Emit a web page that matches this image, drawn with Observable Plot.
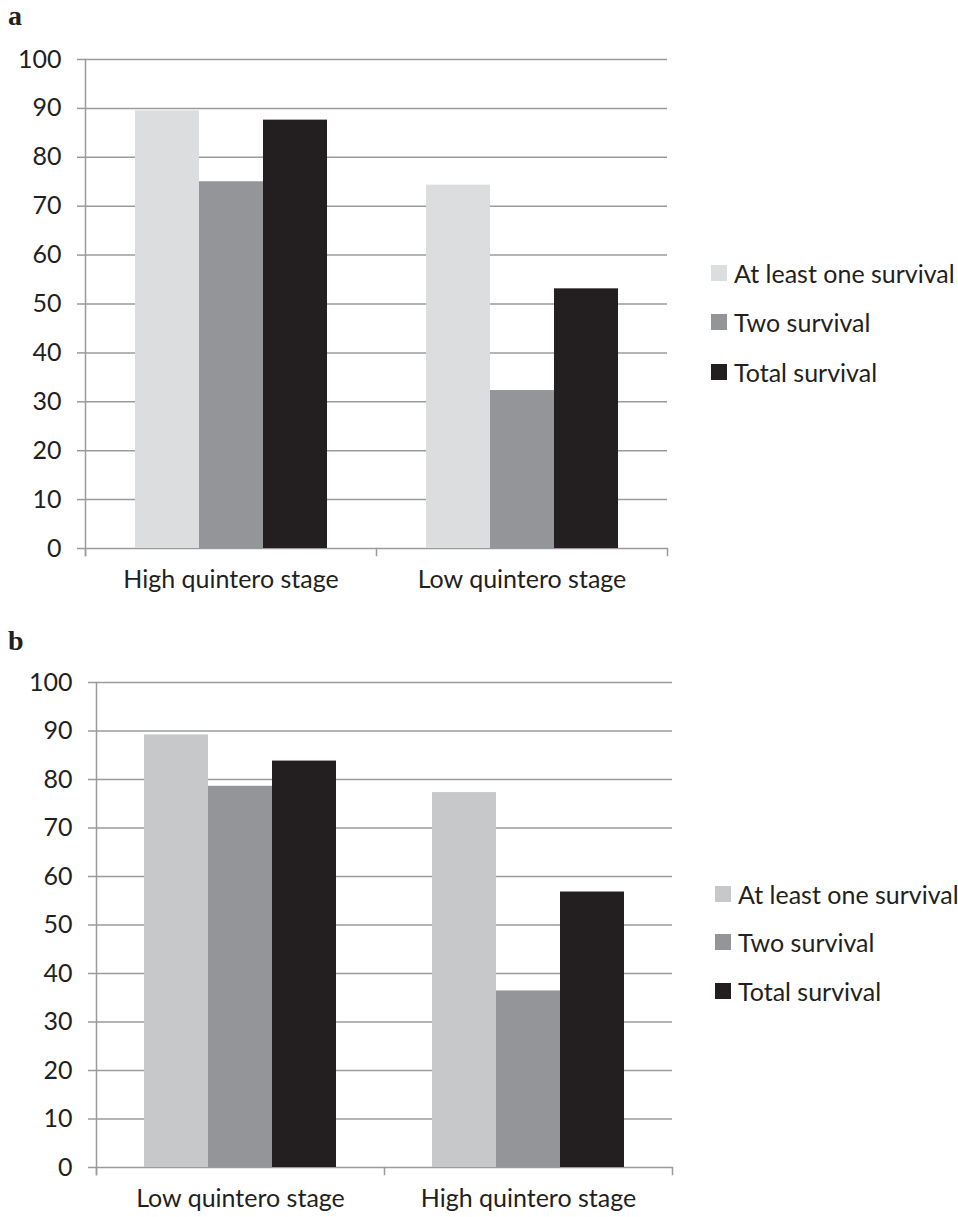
<!DOCTYPE html>
<html><head><meta charset="utf-8">
<script src="https://cdn.jsdelivr.net/npm/d3@7"></script>
<script src="https://cdn.jsdelivr.net/npm/@observablehq/plot@0.6"></script>
<style>
body{margin:0;background:#fff;}
#root{position:relative;width:958px;height:1217px;overflow:hidden;font-family:Lato,"Open Sans",sans-serif;color:#231f20;}
.panel-label{position:absolute;font-family:"Liberation Serif",serif;font-weight:bold;font-size:28px;line-height:1;color:#231f20}
.chart{position:absolute;left:0}
.row{position:absolute;display:flex;align-items:center;white-space:nowrap;font-size:25px;line-height:1}
.sw{width:16px;height:16px;margin-right:7px;flex:none}
</style></head><body><div id="root"></div>
<script>
// ---- data ----
const series = ["At least one survival", "Two survival", "Total survival"];
const categoriesA = ["High quintero stage", "Low quintero stage"];
const atLeastOneA = [89.5, 74.3];
const twoA = [75.0, 32.3];
const totalA = [87.6, 53.1];
const categoriesB = ["Low quintero stage", "High quintero stage"];
const atLeastOneB = [89.2, 77.3];
const twoB = [78.6, 36.4];
const totalB = [83.8, 56.8];
const colorsA = ["#dcdddf", "#939598", "#231f20"];
const colorsB = ["#c7c8ca", "#939598", "#231f20"];
const yTicks = [0, 10, 20, 30, 40, 50, 60, 70, 80, 90, 100];

const FONT = 'Lato, "Open Sans", sans-serif';
const GRID = "#9a9b9d";

function rowsOf(categories, valueArrays) {
  const rows = [];
  categories.forEach((c, i) => {
    series.forEach((s, j) => rows.push({category: c, series: s, value: valueArrays[j][i]}));
  });
  return rows;
}

function chart(categories, valueArrays, colors, dims) {
  const rows = rowsOf(categories, valueArrays);
  const plotH = dims.height - dims.marginTop - dims.marginBottom;
  return Plot.plot({
    width: dims.width,
    height: dims.height,
    marginLeft: dims.marginLeft,
    marginRight: dims.marginRight,
    marginTop: dims.marginTop,
    marginBottom: dims.marginBottom,
    style: {fontFamily: FONT, fontSize: "25px", color: "#231f20", background: "transparent"},
    fx: {domain: categories, padding: 0, label: null},
    x: {domain: series, paddingInner: 0, paddingOuter: 0.75, axis: null},
    y: {domain: [0, 100], axis: null},
    color: {domain: series, range: colors},
    marks: [
      Plot.gridY(yTicks, {stroke: GRID, strokeOpacity: 1, strokeWidth: 1.5}),
      Plot.barY(rows, {fx: "category", x: "series", y: "value", fill: "series"}),
      Plot.axisY(yTicks, {tickSize: 8, tickPadding: 16, stroke: GRID, strokeOpacity: 1, strokeWidth: 1.5, fill: "#231f20", label: null, fontSize: 25}),
      Plot.axisFx({anchor: "bottom", tickSize: 0, tickPadding: 22, label: null, fontSize: 25, fill: "#231f20"}),
      Plot.frame({anchor: "left", facetAnchor: "left", stroke: GRID, strokeWidth: 1.5, insetBottom: -7}),
      Plot.frame({anchor: "left", stroke: GRID, strokeWidth: 1.5, insetTop: plotH, insetBottom: -7}),
      Plot.frame({anchor: "right", facetAnchor: "right", stroke: GRID, strokeWidth: 1.5, insetTop: plotH, insetBottom: -7})
    ]
  });
}

const root = document.getElementById("root");

function addPanel(label, labelTop, top, categories, valueArrays, colors, dims, legendLeft, legendRows) {
  const lab = document.createElement("div");
  lab.className = "panel-label";
  lab.textContent = label;
  lab.style.left = "8px";
  lab.style.top = labelTop + "px";
  root.appendChild(lab);

  const wrap = document.createElement("div");
  wrap.className = "chart";
  wrap.style.top = top + "px";
  wrap.appendChild(chart(categories, valueArrays, colors, dims));
  root.appendChild(wrap);

  series.forEach((s, i) => {
    const row = document.createElement("div");
    row.className = "row";
    row.style.left = legendLeft + "px";
    row.style.top = (legendRows[i] - 13) + "px";
    row.style.height = "26px";
    const sw = document.createElement("span");
    sw.className = "sw";
    sw.style.background = colors[i];
    const t = document.createElement("span");
    t.textContent = s;
    row.appendChild(sw);
    row.appendChild(t);
    root.appendChild(row);
  });
}

addPanel("a", 2, 0, categoriesA, [atLeastOneA, twoA, totalA], colorsA,
  {width: 700, height: 600, marginLeft: 84, marginRight: 33, marginTop: 59, marginBottom: 52},
  711, [273, 322, 372]);

addPanel("b", 627, 620, categoriesB, [atLeastOneB, twoB, totalB], colorsB,
  {width: 700, height: 597, marginLeft: 96, marginRight: 28, marginTop: 62, marginBottom: 50},
  715, [894, 942, 991]);
</script>
</body></html>
